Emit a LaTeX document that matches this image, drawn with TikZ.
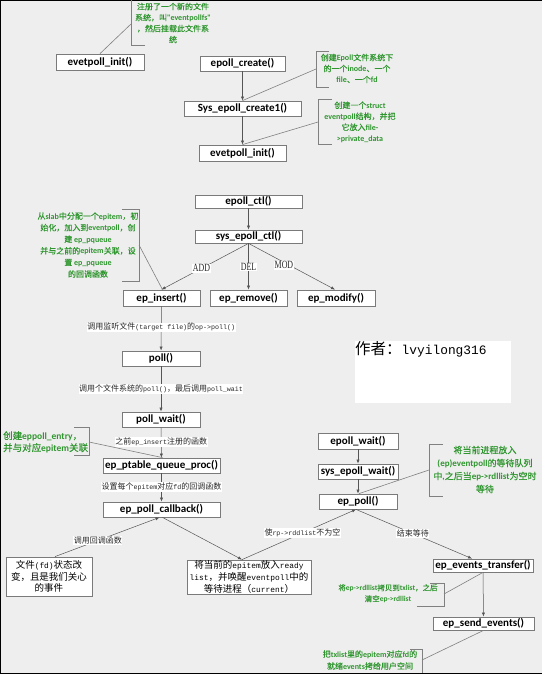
\documentclass[tikz,border=0pt]{standalone}
\usepackage{fontspec}
\setmonofont[Scale=0.83]{Liberation Mono}
\newfontfamily\cjk{Noto Sans CJK SC}
\newfontfamily\cjkg{Noto Sans CJK SC}[FakeBold=0.5]
\newfontfamily\lat{Carlito}
\newfontfamily\serifop{Liberation Serif}
\usetikzlibrary{arrows.meta}
\newcommand\eng[1]{{\lat\bfseries #1}}
\newcommand\mo[1]{{\ttfamily #1}}
\newcommand\opl[1]{\scalebox{0.72}[1]{#1}}
\definecolor{bg}{HTML}{EEEEEE}
\definecolor{boxline}{HTML}{7A7A7A}
\definecolor{lc}{HTML}{555555}
\definecolor{notec}{HTML}{808080}
\definecolor{greentext}{HTML}{2F962F}
\begin{document}
\begin{tikzpicture}[x=1pt,y=-1pt,
  box/.style={draw=boxline, fill=white, line width=0.8pt, inner sep=0pt,
    font=\lat\bfseries\fontsize{11}{13}\selectfont},
  tbox/.style={draw=boxline, fill=white, line width=0.8pt, inner sep=0pt, align=center,
    font=\cjk\fontsize{9.5}{11.8}\selectfont},
  arr/.style={draw=lc, line width=0.5pt, -{Latex[length=4pt,width=3.2pt]}},
  nline/.style={draw=notec, line width=0.6pt},
  bracket/.style={draw=notec, line width=0.9pt},
  lbl/.style={fill=white, inner sep=0.6pt, text=black!85, font=\cjk\fontsize{8}{9}\selectfont},
  oplbl/.style={fill=white, inner sep=0.6pt, text=black!85, font=\serifop\fontsize{11}{12}\selectfont},
  note/.style={text=greentext, align=center, inner sep=0pt, font=\cjkg\fontsize{8}{11}\selectfont}]
\fill[white] (0,0) rectangle (545,675);
\useasboundingbox (0,0) rectangle (545,675);
\fill[bg] (0,0) rectangle (541.5,673.5);
\draw[black, line width=1.2pt] (541.5,0.6) -- (0.6,0.6) -- (0.6,673.4) -- (541.5,673.4);

% ---------- boxes ----------
\node[box, minimum width=88, minimum height=16] (init1) at (100,62) {evetpoll\_init()};
\node[box, minimum width=85, minimum height=15] (ecreate) at (242.5,63.5) {epoll\_create()};
\node[box, minimum width=117, minimum height=15] (sys1) at (242.5,108.5) {Sys\_epoll\_create1()};
\node[box, minimum width=87, minimum height=16] (init2) at (242.5,153) {evetpoll\_init()};
\node[box, minimum width=107, minimum height=13] (ctl) at (248.5,201.5) {epoll\_ctl()};
\node[box, minimum width=107, minimum height=13] (sysctl) at (248.5,236.5) {sys\_epoll\_ctl()};
\node[box, minimum width=77, minimum height=16] (insert) at (161.5,298) {ep\_insert()};
\node[box, minimum width=77, minimum height=16] (remove) at (248.5,298) {ep\_remove()};
\node[box, minimum width=78, minimum height=16] (modify) at (336,298) {ep\_modify()};
\node[box, minimum width=78, minimum height=15] (poll) at (161,358.5) {poll()};
\node[box, minimum width=78, minimum height=15] (pwait) at (161,419.5) {poll\_wait()};
\node[box, minimum width=117, minimum height=15] (ptable) at (161.5,465.5) {ep\_ptable\_queue\_proc()};
\node[box, minimum width=117, minimum height=15] (cb) at (161.5,509.5) {ep\_poll\_callback()};
\node[tbox, minimum width=86, minimum height=39] (fd) at (49,576.5) {文件\mo{(fd)}状态改\\变，且是我们关心\\的事件};
\node[tbox, minimum width=124, minimum height=34] (ready) at (249,577) {将当前的\mo{epitem}放入\mo{ready}\\\mo{list}，并唤醒\mo{eventpoll}中的\\等待进程（\mo{current}）};
\node[box, minimum width=80, minimum height=16] (ewait) at (358,441) {epoll\_wait()};
\node[box, minimum width=80, minimum height=15] (sewait) at (358,471.5) {sys\_epoll\_wait()};
\node[box, minimum width=78, minimum height=15] (epp) at (358,501.5) {ep\_poll()};
\node[box, minimum width=100, minimum height=13] (et) at (483,565.5) {ep\_events\_transfer()};
\node[box, minimum width=101, minimum height=13] (send) at (483.5,623.5) {ep\_send\_events()};

% author
\node[fill=white, minimum width=156, minimum height=62, inner sep=0pt, anchor=north west] (authbox) at (355,341) {};
\node[anchor=north west, inner sep=0pt, font=\cjk\fontsize{15.5}{17}\selectfont] (auth) at (355,341) {作者：\mo{lvyilong316}};

% ---------- arrows ----------
\draw[arr] (ecreate) -- (sys1);
\draw[arr] (sys1) -- (init2);
\draw[arr] (ctl) -- (sysctl);
\draw[arr] (sysctl.south) -- (insert.north) node[oplbl, pos=0.54] {\opl{ADD}};
\draw[arr] (sysctl.south) -- (remove.north) node[oplbl, pos=0.51] {\opl{DEL}};
\draw[arr] (sysctl.south) -- ([xshift=-1pt]modify.north) node[oplbl, pos=0.41, yshift=-3pt] {\opl{MOD}};
\draw[arr] (insert) -- (poll) node[lbl, pos=0.47] {调用监听文件\mo{(target file)}的\mo{op->poll()}};
\draw[arr] (poll) -- (pwait) node[lbl, pos=0.5] {调用个文件系统的\mo{poll()}，最后调用\mo{poll\_wait}};
\draw[arr] (pwait) -- (ptable) node[lbl, pos=0.48] {之前\mo{ep\_insert}注册的函数};
\draw[arr] (ptable) -- (cb) node[lbl, pos=0.48] {设置每个\mo{epitem}对应\mo{fd}的回调函数};
\draw[arr] ([xshift=6pt]fd.north) -- ([xshift=-2pt]cb.south) node[lbl, pos=0.41] {调用回调函数};
\draw[arr] ([xshift=1pt]cb.south) -- ([xshift=-7pt]ready.north);
\draw[arr] ([xshift=-7pt]ready.north) -- ([xshift=-2pt]epp.south) node[lbl, pos=0.53] {使\mo{rp->rddlist}不为空};
\draw[arr] ([xshift=-2pt]epp.south) -- ([xshift=-11pt]et.north) node[lbl, pos=0.49] {结束等待};
\draw[arr] (et) -- (send);
\draw[arr] (ewait) -- (sewait);
\draw[arr] (sewait) -- (epp);

% ---------- notes ----------
\draw[bracket] (131,0) -- (131,45) -- (145,45);
\coordinate (c0) at (131,24);
\draw[nline] (c0) -- (init1.north);
\node[note] (n0) at (173,23) {注册了一个新的文件\\系统，叫\eng{"eventpollfs"}\\，然后挂载此文件系\\统};

\draw[bracket] (329,51) -- (316,51) -- (316,87) -- (329,87);
\coordinate (c1) at (316,69);
\draw[nline] (c1) -- (sys1.north);
\node[note] (n1) at (357,68.5) {创建\eng{Epoll}文件系统下\\的一个\eng{inode}、一个\\\eng{file}、一个\eng{fd}};

\draw[bracket] (332,99) -- (318,99) -- (318,144) -- (332,144);
\coordinate (c2) at (318,122);
\draw[nline] (c2) -- (init2.north);
\node[note] (n2) at (360,122) {创建一个\eng{struct}\\\eng{eventpoll}结构，并把\\它放入\eng{file-}\\\eng{>private\_data}};

\draw[bracket] (122,209) -- (139,209) -- (139,281) -- (122,281);
\coordinate (c3) at (139,245);
\draw[nline] (c3) -- ([xshift=1pt]insert.north);
\node[note, font=\cjkg\fontsize{8}{11.6}\selectfont] (n3) at (88,245) {从\eng{slab}中分配一个\eng{epitem}，初\\始化，加入到\eng{eventpoll}，创\\建 \eng{ep\_pqueue}\\并与之前的\eng{epitem}关联，设\\置 \eng{ep\_pqueue}\\的回调函数};

\draw[bracket] (74,427) -- (89,427) -- (89,455) -- (74,455);
\coordinate (c4) at (89,442);
\draw[nline] (c4) -- ([xshift=1pt]ptable.north);
\node[note, align=left, font=\cjkg\fontsize{9.5}{12}\selectfont, anchor=west] (n4) at (3,442) {创建\eng{eppoll\_entry}，\\并与对应\eng{epitem}关联};

\draw[bracket] (443,444) -- (429,444) -- (429,496) -- (443,496);
\coordinate (c5) at (429,470);
\draw[nline] (c5) -- ([xshift=1pt]epp.north);
\node[note, font=\cjkg\fontsize{9}{13}\selectfont] (n5) at (485,469.5) {将当前进程放入\\\eng{(ep)eventpoll}的等待队列\\中\eng{,}之后当\eng{ep->rdllist}为空时\\等待};

\draw[bracket] (430,583) -- (444,583) -- (444,606) -- (417,606);
\coordinate (c6) at (444,594);
\draw[nline] (c6) -- (et.south);
\node[note, font=\cjkg\fontsize{7.5}{11}\selectfont] (n6) at (388,593.5) {将\eng{ep->rdllist}拷贝到\eng{txlist}，之后\\清空\eng{ep->rdllist}};

\draw[bracket] (410,649) -- (422,649) -- (422,673);
\coordinate (c7) at (422,660);
\draw[nline] (c7) -- (send.south);
\node[note, font=\cjkg\fontsize{8}{12}\selectfont] (n7) at (370,660) {把\eng{txlist}里的\eng{epitem}对应\eng{fd}的\\就绪\eng{events}拷给用户空间};
\end{tikzpicture}
\end{document}
